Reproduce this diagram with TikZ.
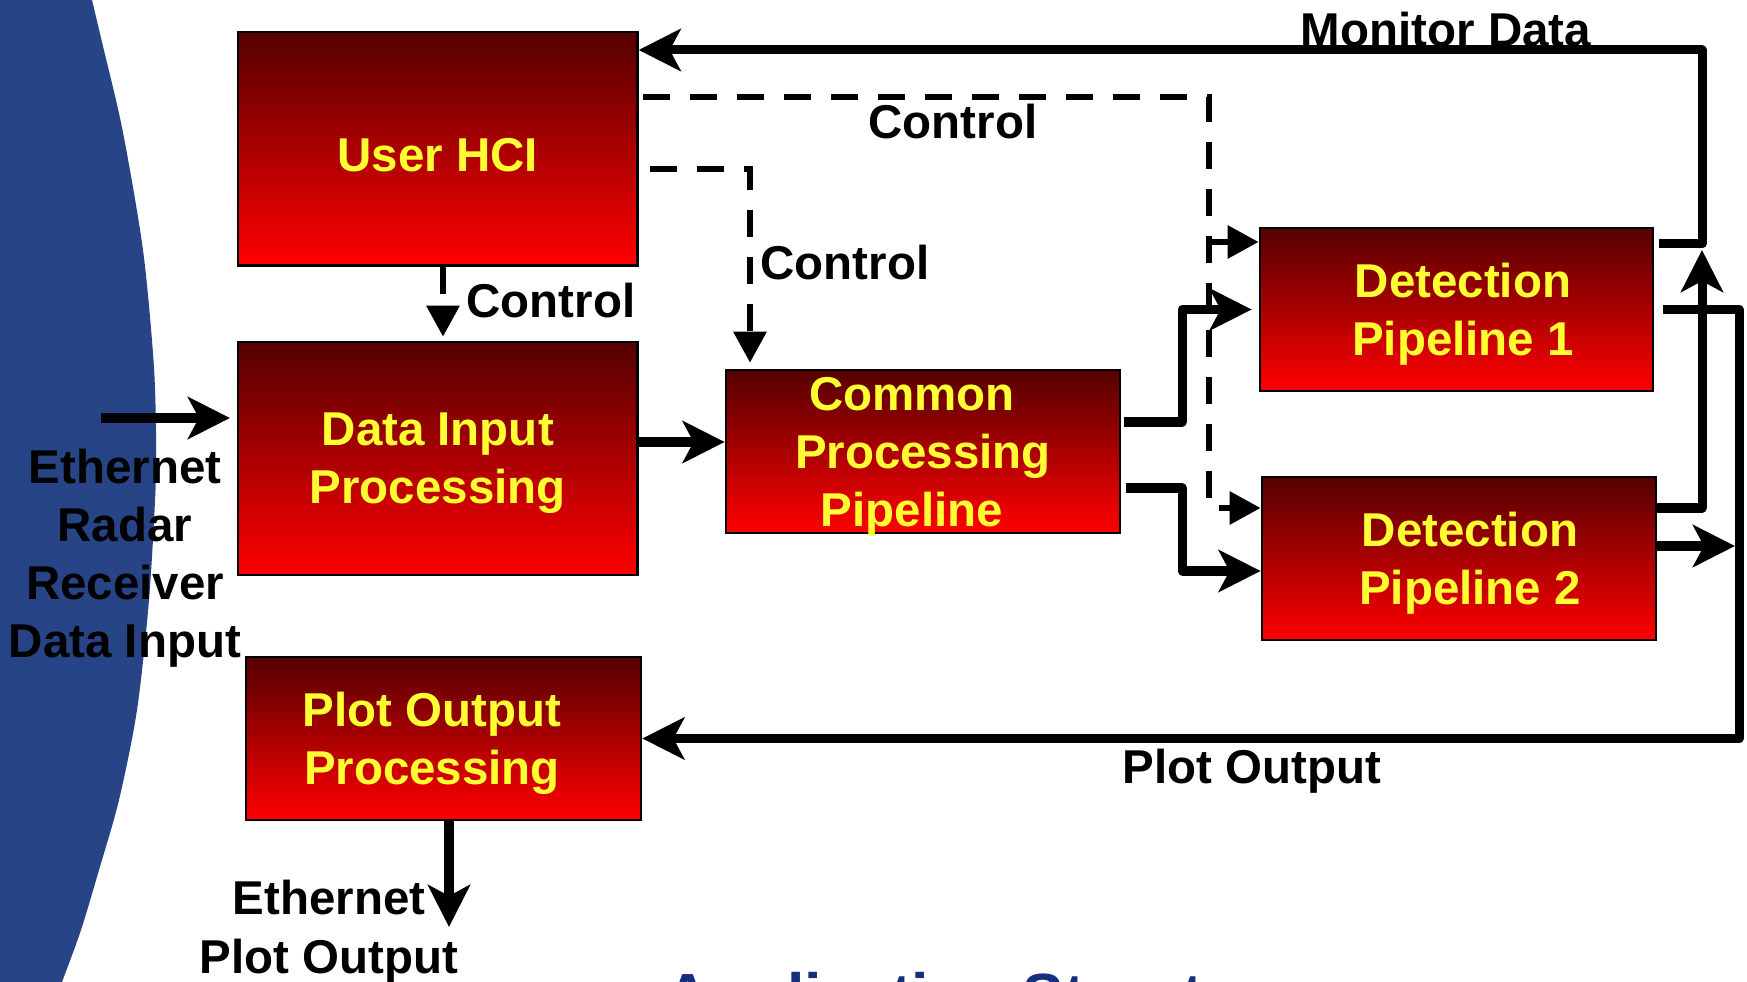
\documentclass[tikz,border=0pt]{standalone}
\usepackage{fontspec}
\setmainfont{Liberation Sans}
\usetikzlibrary{arrows.meta,calc}
\definecolor{bluebg}{RGB}{38,68,134}
\definecolor{boxtop}{RGB}{85,0,0}
\definecolor{boxbot}{RGB}{255,0,0}
\definecolor{boxtext}{RGB}{255,255,51}
\definecolor{titleblue}{RGB}{22,46,125}
\newcommand\diafont{\fontsize{13.5}{16.5}\selectfont\bfseries}
\begin{document}
\begin{tikzpicture}[x=0.01cm,y=-0.01cm,
  blk/.style={draw=black, line width=0.025cm, top color=boxtop, bottom color=boxbot,
    text=boxtext, font=\diafont, align=center, inner sep=0pt, text depth=0pt},
  lbl/.style={font=\diafont, align=center, inner sep=0pt, anchor=base},
  flow/.style={line width=0.09cm, line join=round,
    -{Stealth[length=0.42cm,width=0.42cm,inset=0.11cm]}},
  ctrl/.style={line width=0.06cm, dash pattern=on 0.27cm off 0.2cm,
    -{Triangle[length=0.31cm,width=0.32cm]}},
]
\useasboundingbox (0,0) rectangle (1747,982);
\fill[white] (0,0) rectangle (1747,982);

% backdrop and title, cut at the page edge
\begin{scope}
  \clip (0,0) rectangle (1747,982);
  \fill[bluebg] (-20,-20) -- plot[smooth, tension=0.5] coordinates
    {(87,-20) (92,0) (101.5,40) (122.5,130) (143,250) (153.5,360) (156,430)
     (155.5,490) (149,600) (137,710) (119,800) (99,870) (81,930) (62,982) (54,1002)}
    -- (-20,1002) -- cycle;
  \node[font=\fontsize{17.75}{20}\selectfont\bfseries, text=titleblue,
    anchor=base west, inner sep=0pt] (title) at (665,1017) {Application Structure};
\end{scope}

% processing blocks
\node[blk, minimum width=3.99cm, minimum height=2.33cm, text height=0.46cm] (uhci) at (437.8,148.7) {User HCI};
\node[blk, minimum width=3.99cm, minimum height=2.33cm, text depth=-0.06cm] (dip) at (437.8,458.5) {Data Input\\Processing};
\node[blk, minimum width=3.95cm, minimum height=1.63cm] (pop) at (443.5,738.5)
  {Plot Output\hspace*{0.23cm}\\Processing\hspace*{0.23cm}};
\node[blk, minimum width=3.94cm, minimum height=1.63cm] (cpp) at (923,451.5)
  {Common\hspace*{0.22cm}\\Processing\hspace*{0.22cm}\\Pipeline\hspace*{0.22cm}};
\node[blk, minimum width=3.93cm, minimum height=1.63cm] (dp1) at (1456.5,309.5)
  {\hspace*{0.13cm}Detection\\\hspace*{0.13cm}Pipeline 1};
\node[blk, minimum width=3.94cm, minimum height=1.63cm] (dp2) at (1459,558.5)
  {\hspace*{0.22cm}Detection\\\hspace*{0.22cm}Pipeline 2};

% radar data input
\coordinate (ethin) at (101,418);
\draw[flow, shorten >=0.07cm] (ethin) -- (ethin -| dip.west);

% control links (dashed)
\coordinate (c1) at (443,0);
\draw[ctrl, shorten >=0.04cm] (c1 |- uhci.south) -- (c1 |- dip.north);
\coordinate (c2) at (0,169);
\coordinate (c2v) at (750,0);
\draw[ctrl, shorten >=0.06cm] ($(uhci.east |- c2)+(11,0)$) -| (c2v |- cpp.north);
\coordinate (c3) at (0,97);
\coordinate (d1) at (1209,242);
\coordinate (d2) at (1209,508);
\draw[ctrl] ($(uhci.east |- c3)+(4,0)$) -| (d2) -- (d2 -| dp2.west);
\draw[ctrl] (d1) -- (d1 -| dp1.west);

% main data flow
\coordinate (a1) at (0,442);
\draw[flow] (a1 -| dip.east) -- (a1 -| cpp.west);
\coordinate (j1) at (1182,422);
\coordinate (j2) at (1182,488);
\coordinate (j2b) at (0,571);
\draw[flow, shorten >=0.07cm] ($(cpp.east |- j1)+(3,0)$) -- (j1) |- (dp1.west);
\draw[flow] ($(cpp.east |- j2)+(5,0)$) -- (j2) |- (j2b -| dp2.west);

% monitor data back to the HCI
\coordinate (m1) at (1702,244);
\coordinate (m2) at (1702,50);
\coordinate (m3) at (1702,250);
\coordinate (m4) at (1702,508);
\draw[flow] ($(dp1.east |- m1)+(5,0)$) -- (m1) -- (m2) -- (m2 -| uhci.east);
\draw[flow] (m4 -| dp2.east) -- (m4) -- (m3);

% plot output path
\coordinate (p1) at (1739,0);
\coordinate (p2) at (1735,546);
\draw[flow] ($(dp1.east)+(9,0)$) -- (p1 |- dp1.east) -- (p1 |- pop.east) -- (pop.east);
\draw[flow] (p2 -| dp2.east) -- (p2);
\coordinate (o1) at (449,927);
\draw[flow] (o1 |- pop.south) -- (o1);

% labels (multi-line ones are placed by their last baseline)
\node[lbl] (lmon) at (1446,47) {Monitor Data};
\node[lbl] (lc1) at (953,139) {Control};
\node[lbl] (lc2) at (845,280) {Control};
\node[lbl] (lc3) at (551,317.5) {Control};
\node[lbl] (leth) at (125,657.5) {Ethernet\\Radar\\Receiver\\Data Input};
\node[lbl] (lplot) at (1252,784) {Plot Output};
\node[lbl] (lethout) at (329,973) {Ethernet\\Plot Output};
\end{tikzpicture}
\end{document}
